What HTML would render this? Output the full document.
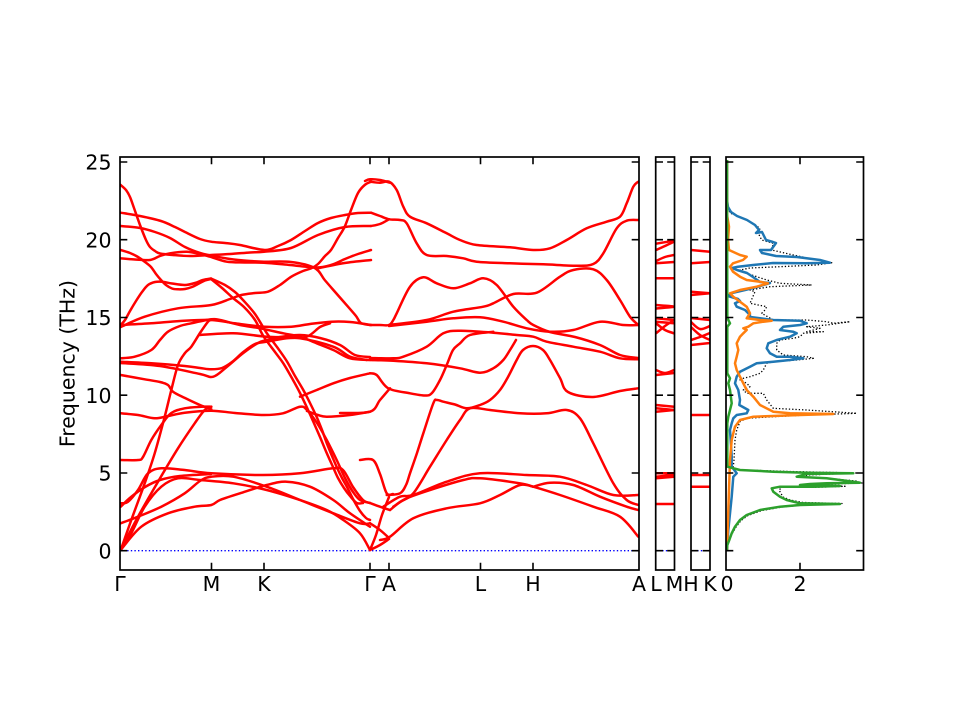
<!DOCTYPE html>
<html><head><meta charset="utf-8"><style>
html,body{margin:0;padding:0;background:#fff;}
svg{display:block;}
text{font-family:"DejaVu Sans","Liberation Sans",sans-serif;font-size:20.5px;fill:#000;}
.r{fill:none;stroke:#ff0000;stroke-width:2.5;stroke-linejoin:round;stroke-linecap:round;}
.z{fill:none;stroke:#0000ff;stroke-width:1.3;stroke-dasharray:1.4 2.2;}
.b{fill:none;stroke:#1f77b4;stroke-width:2.5;stroke-linejoin:round;}
.o{fill:none;stroke:#ff7f0e;stroke-width:2.5;stroke-linejoin:round;}
.g{fill:none;stroke:#2ca02c;stroke-width:2.5;stroke-linejoin:round;}
.k{fill:none;stroke:#000;stroke-width:1.3;stroke-dasharray:1.3 2;stroke-linejoin:round;}
.sp{fill:none;stroke:#000;stroke-width:1.7;}
.t{stroke:#000;stroke-width:1.6;}
</style></head><body>
<svg id="fig" width="960" height="720" viewBox="0 0 960 720" xmlns="http://www.w3.org/2000/svg">
<defs>
<clipPath id="c1"><rect x="120" y="157" width="519" height="413"/></clipPath>
<clipPath id="c2"><rect x="655.7" y="157" width="18.8" height="413"/></clipPath>
<clipPath id="c3"><rect x="691" y="157" width="19" height="413"/></clipPath>
<clipPath id="c4"><rect x="726" y="157" width="137.5" height="413"/></clipPath>
</defs>
<rect width="960" height="720" fill="#fff"/>

<g clip-path="url(#c1)">
<line class="z" x1="120" y1="550.7" x2="639" y2="550.7"/>
<polyline class="r" points="120.7,185 126,190 130,197 134,208 140,225 146,240 150,247 155,251 160,253.5 173,255 190,256 211,255 230,254 250,252.5 264,251.7 291,248 318,235 345,227 371,226"/>
<polyline class="r" points="120.7,212.7 140,216 161,221 175,227 185,232 200,239 211,241.7 225,243 240,245 264.7,250 278,246 291,240 305,231 318,223 331,218 345,215 358,213 371,212.7"/>
<polyline class="r" points="120.7,226 140,228 155,232 170,238 185,247 200,253 211,255.5 230,259 250,261 264,261.7 291,262 314.7,268 324.7,280 336,293 348,306.7 356,316 361,323 370,325"/>
<polyline class="r" points="120.7,250 130,253 138,257 145,262 151,267 156,274 161,280 166,285 172,288.5 178,289.3 185,289 192,287 198,284 205,280.5 211,279"/>
<polyline class="r" points="120,258.3 135,259.5 150,260 160,256 170,253.3 186.7,251.7 200,254 210,256.7 226.7,261.7 245,262.5 264,262.7 290,265 316,267.5 331,265 345,259 358,254 371,250"/>
<polyline class="r" points="318,268.3 344.7,263 371,260"/>
<polyline class="r" points="120.7,325 125,320 130,311 136,301 142,292 148,285 155,282 162,281.7 172,283.5 185,285 195,283 203,280 211,278.5"/>
<polyline class="r" points="211,278.5 225,285 235,292 243,300 255,314 266.7,333 277,347 286.7,361 295,376 303.3,390 310,403 316.7,417 322,430 326.7,443 332,456 336.7,467 342,478 347,487 353,499 360,511 366,518 370,520"/>
<polyline class="r" points="211,279 222,288 233,298 244,307 255,320 263.3,336 275,352 283.3,363.3 293,380 300,393 306.7,407 313,421 320,437 326.7,453 333,467 338,478 344,488 350,496 356.7,503 363,503"/>
<polyline class="r" points="120.7,325 151.3,323.3 180,321 211.3,320 234.7,323.3 264.7,326.7 291.3,326.7 310,324 331.3,321.7 350,322 371.3,325"/>
<polyline class="r" points="120.7,327 144.7,316.7 178,308.3 211.3,305 230,299 241.3,295 255,293 268,291.7 280,285 291.3,276.7 303,271 311.3,268.3 318,264 325,256 331,250 338,238 344.7,226.7 351,210 358,193 364.7,185 371,181.7"/>
<polyline class="r" points="120.7,358.3 134.7,356.7 151.3,350 160,340 168,331.7 180,326 191.3,323.3 211.3,319.3 220,320 240,325 260,328.3 283.3,333.3 300,336.7 316.7,343.3 333.3,350 350,358.3 370,360"/>
<polyline class="r" points="120.7,361.7 151.3,363.3 184.7,366 200,368 211.3,369.3 222,368 232,362 243.3,352 255,344 266.7,341.7 286.7,338.3 306.7,336.7 320,327 330,323.3"/>
<polyline class="r" points="120.7,363 160,366 200,374 213.3,376.7 226.7,367 243.3,353 258,343 266.7,340 280,337 300,335 320,338 340,345 355,355 370,357"/>
<polyline class="r" points="120.7,375 144.7,379.3 160,382 168,385 173,391.7 185,398 200,405 211.3,409.3"/>
<polyline class="r" points="200,335 233.3,333.3 266.7,336.7 300,338.3 333.3,346.7 350,356.7 366.7,360"/>
<polyline class="r" points="120.7,413.3 138,415 154.7,418.3 168,416 184.7,412.7 211.3,410.7 235,413 263,415 283,413.3 300,406.7 307,410 317,423 326.7,440 336.7,460 345,478 353,492 360,500 370,503"/>
<polyline class="r" points="120.7,460 138,460 143,457 151.3,440 161.3,425 171.3,413 184.7,408.3 201.3,406.7 211.3,406.7"/>
<polyline class="r" points="120.7,550 131.3,520 144.7,483.3 154.7,453.3 164.7,416.7 171.3,390 178,365 185,353 191.3,346.7 200,333 208,321.7 211,320"/>
<polyline class="r" points="120.7,550 138,516.7 158,481.7 178,448.3 194.7,423.3 204.7,410 211.3,406.7"/>
<polyline class="r" points="120.7,503.3 128,501.7 138,490 148,473.3 161.3,468.3 184.7,470 211.3,473.3 263,475 300,473.3 333,468.3 343,470 353,487 363,500 370,503"/>
<polyline class="r" points="120.7,550 131.3,533.3 144.7,506.7 161.3,486.7 178,478.3 200,480 233.3,483.3 266.7,490 300,500 326.7,510 343.3,520 360,533.3 370,550"/>
<polyline class="r" points="120.7,523.3 138,516.7 161.3,506.7 184.7,493.3 200,481 211.3,476.7 233.3,476.7 266.7,486.7 300,500 333.3,513.3 360,523.3 370,523.3"/>
<polyline class="r" points="120.7,550 141.3,526.7 168,513.3 194.7,506.7 211.3,505 220,500 240,493.3 266.7,485 286.7,481.7 310,486.7 333.3,500 350,513.3 370,526.7"/>
<polyline class="r" points="120.7,506.7 131,497 145,487 160,480 180,476 211,474"/>
<polyline class="r" points="300,396.7 316.7,390 333.3,383.3 350,378 370,373.3"/>
<polyline class="r" points="307,411 318,415 326.7,416.7 350,415 370,411.7"/>

<polyline class="r" points="365,181 370,179.3 380,180 390,182.7"/>
<polyline class="r" points="370,181.7 380,182.7 389,181.7 396.7,190 403.3,206.7 410,216.7 426.7,223.3 446.7,233.3 460,240 476.7,245 510,247.3 533.3,250 550,248.3 566.7,240 586.7,228.3 606.7,221.7 620,216.7 626.7,203.3 633.3,186.7 638.3,181.7"/>
<polyline class="r" points="371,212.7 380,216 389,219.3 400,220 406.7,223.3 416.7,243.3 426.7,255 446.7,256 463.3,258.3 476.7,261.7 510,263.3 543.3,264.3 576.7,265.7 593.3,264 603.3,253.3 616.7,228.3 626.7,220.7 638.3,220"/>
<polyline class="r" points="371,226 380,224 389,219.3"/>
<polyline class="r" points="370,325 380,325 389,325 393.3,320 396.7,313.3 410,286.7 423.3,277.3 436.7,283.3 453.3,288.3 470,283.3 483.3,278.3 496.7,285 513.3,306.7 526.7,320 533.3,325 550,332 575,337 600,345 620,355 638,358"/>
<polyline class="r" points="389,325 426.7,320 453.3,311.7 483.3,306.7 493.3,303.3 513.3,294 536.7,292.7 560,276.7 573.3,270 593.3,269.3 606.7,280 620,300 630,316.7 638.3,325"/>
<polyline class="r" points="389,326 426.7,321.7 453.3,318.3 480,317.3 503.3,321.7 526.7,328.3 550,331.7 573.3,330 600,321.7 623.3,325 638.3,325"/>
<polyline class="r" points="370,358 393.3,358.3 403.3,356.7 426.7,346.7 443.3,333.3 460,330.7 493.3,332.7 516.7,335 533.3,336.7 546.7,341.7 573.3,346.7 600,351.7 620,358.3 638.3,359.3"/>
<polyline class="r" points="370,360 393.3,360.7 426.7,363.3 460,368.3 480,372.7 493.3,368.3 503.3,360 510,350 516,340"/>
<polyline class="r" points="370,373.3 376.7,375 388.3,388.3 410,393.3 425,395.5 432,393 440,380 446.7,365 453,350 460,343.3 470,335 493.3,331.7"/>
<polyline class="r" points="340,413 370,411.7 380,400 390,388.3"/>
<polyline class="r" points="386.7,495 400,493.3 406,485 410,473.3 417,453 423.3,433.3 433.3,403.3 437,400 443.3,401.7 455,404.5 466.7,408.3 480,405 490,400 500,390 508,377 516.7,360 523,350 533,346 543,350 550,360 560,378 568,392 593,397 620,391 638.3,388.3"/>
<polyline class="r" points="390,510 400,502 413.3,493.3 430,466.7 446.7,440 460,420 470,408.3 490,410 520,413.3 546.7,413.3 566.7,410 580,418.3 593.3,443.3 613.3,483.3 626.7,500 638.3,505"/>
<polyline class="r" points="383.3,506.7 400,496.7 413.3,495 446.7,481.7 480,473.3 526.7,475 560,476.7 586.7,485 613.3,495 638.3,495"/>
<polyline class="r" points="393.3,506.7 406.7,498.3 430,490 463.3,480 480,478.3 520,483.3 533.3,486.7 560,495 593.3,506.7 620,516.7 638.3,536.7"/>
<polyline class="r" points="533.3,486.7 550,482.7 573.3,485 600,496.7 626.7,506.7 638.3,510"/>
<polyline class="r" points="380,540 390,536.7 413.3,518.3 446.7,508.3 480,503.3 500,495 520,485 533.3,486.7"/>
<polyline class="r" points="370,550 380,545 389,539"/>
<polyline class="r" points="370,550 376,535 382,515 389,497"/>
<polyline class="r" points="370,523.3 380,530 389,538"/>
<polyline class="r" points="360,460 373,460 380,474 386.7,493.3 393,494"/>
<polyline class="r" points="370,503 380,506.7 390,510"/>
</g>

<g clip-path="url(#c2)">
<line class="z" x1="655" y1="550.7" x2="675" y2="550.7"/>
<polyline class="r" points="656,243.7 674,240.7"/>
<polyline class="r" points="656,250 665,246 674,241.7"/>
<polyline class="r" points="656,261 665,257 674,255"/>
<polyline class="r" points="656,263.3 674,262"/>
<polyline class="r" points="656,278.3 674,278.3"/>
<polyline class="r" points="656,305 674,306.7 656,308.5"/>
<polyline class="r" points="656,318.3 674,320"/>
<polyline class="r" points="656,321.7 674,323.3"/>
<polyline class="r" points="656,323.3 665,330 674,333.3"/>
<polyline class="r" points="656,333.3 665,326 674,320"/>
<polyline class="r" points="656,370 665,373 674,370"/>
<polyline class="r" points="656,375 674,373"/>
<polyline class="r" points="656,405 674,406.7"/>
<polyline class="r" points="656,408.3 674,410"/>
<polyline class="r" points="656,411.7 674,410"/>
<polyline class="r" points="656,473.3 674,473.3"/>
<polyline class="r" points="656,476.7 674,475"/>
<polyline class="r" points="656,478.3 674,476.7"/>
<polyline class="r" points="656,504 674,504"/>
</g>

<g clip-path="url(#c3)">
<line class="z" x1="690" y1="550.7" x2="711" y2="550.7"/>
<polyline class="r" points="691,250 710,251.7"/>
<polyline class="r" points="691,263.3 710,262"/>
<polyline class="r" points="691,291.7 710,293.3"/>
<polyline class="r" points="691,295 710,293.3"/>
<polyline class="r" points="691,318 710,320"/>
<polyline class="r" points="691,322 700,329 710,326"/>
<polyline class="r" points="691,327 700,335 710,340"/>
<polyline class="r" points="691,340 700,337 710,333"/>
<polyline class="r" points="691,345 710,343"/>
<polyline class="r" points="691,415 710,415"/>
<polyline class="r" points="691,475 710,475"/>
<polyline class="r" points="691,486.7 710,486.7"/>
</g>

<g clip-path="url(#c4)">
<polyline class="k" points="727,165 727.5,205 730,213 740,217 750,221.7 760,228.3 758.3,233.3 761.7,240 773.3,243.3 771.7,250 793.3,255 816.7,260 831.7,262.7 816.7,265 780,266.7 750,268 740,270 746.7,273.3 766.7,280 780,283.3 811.7,285 770,286.7 750,290 755,291.7 750,303.3 766.7,306.7 765,310 761.7,313.3 773.3,320 806.7,320 826.7,321.7 833.3,323.3 850,321.7 826.7,325 806.7,326.7 820,328.3 806.7,331.7 823.3,331.7 803.3,333.3 800,336.7 793.3,338.3 780,340 776.7,343.3 776.7,350 783.3,355 806.7,356.7 813.3,358.3 796.7,360 773.3,361.7 766.7,363.3 763.3,370 760,373.3 750,376.7 743.3,378.3 740,380 746.7,383.3 750,386.7 743.3,390 746.7,393.3 763.3,393.3 766.7,400 773.3,408.3 806.7,410 856.7,413.3 806.7,415 773.3,416.7 746.7,418.3 740,421.7 736.7,430 735,440 734,460 733,469 745,470 790,471.5 856,473 808,475 800,477 830,478.5 856,481 862,483 830,484 812,485 845,486.3 815,487.3 782,487.3 779,490 783,497 790,500 803,502.5 842,503.5 803,505 782,507 762,510.5 748,515.5 741,520.5 736,527 732,534 729.5,540 727.5,545 727,550"/>
<polyline class="b" points="727,160 727,200 728,207 731,212 737,216 747,220 755,225 759,230 756,233 762,232 766,240 773,242 776,243 771,250 760,250 762,253 776,256 797,257 820,260 830,262.7 806,263.3 773,263 753,265 738,266.7 732,268 737,270 747,273 753,277 760,282 770,283 757,287 745,290 732,293 728,296 738,299 740,301 735,303.3 736.7,306.7 745,310 750,315 748.3,316.7 773.3,320 800,320.7 806.7,323.3 800,325 783.3,326.7 780,330 793.3,331.7 796.7,333.3 790,336.7 783.3,338.3 776.7,340 768.3,343.3 766.7,348.3 770,353.3 776.7,356.7 790,356.7 803.3,358.3 790,360 773.3,361.7 756.7,363.3 750,366.7 740,371.7 736.7,376.7 735,383.3 738.3,390 740,400 739.3,405 748.3,410 746.7,413.3 736.7,415 733.3,418.3 731.7,423.3 730,430 731,445 731.7,456.7 731.7,466.7 736.7,473.3 733.3,476.7 731.7,496.7 728.3,530 727.3,545 727,550"/>
<polyline class="o" points="727,160 727,215 729,226.7 728,240 729,250 740,255 746.7,256.7 743,260 733,263.3 730,266.7 733,271.7 740,276.7 746.7,280 760,281.7 768,283.3 756.7,286.7 740,290 730,293.3 733.3,296.7 746.7,306.7 750,313.3 746.7,318.3 760,320 771.7,320.7 763.3,321.7 753.3,323.3 748.3,326.7 743.3,328.3 746.7,330 743.3,333.3 740,336.7 736.7,343.3 738.3,350 736.7,356.7 735,363.3 736.7,370 740,376.7 743.3,383.3 746.7,390 753.3,396.7 760,405 773.3,411.7 790,413.3 833.3,414 800,415 773.3,416 753.3,416.7 740,420 735,426.7 733.3,433.3 731.7,440 730,460 729,490 728,520 727,550"/>
<polyline class="g" points="727,160 727.3,316.7 728.3,320 730,323.3 727.3,326.7 727.3,373.3 730,378.3 728.3,383.3 730,390 731.7,403.3 730,410 728.3,416.7 727.3,423.3 727.3,466.7 740,470 773.3,471.7 806.7,472.7 853.3,473.3 806.7,474 796.7,476.7 826.7,478.3 853.3,481.7 860,482.7 826.7,483.3 810,484 800,485 840,486 813.3,486.7 780,486.7 771.7,488.3 773.3,491.7 780,496.7 786.7,500 800,503.3 840,504 800,505 780,506.7 760,510 746.7,515 740,520 735,526.7 731.7,533.3 729.3,540 727.3,545 727,550"/>
</g>

<!-- spines -->
<rect class="sp" x="120" y="157" width="519" height="413"/>
<rect class="sp" x="655.7" y="157" width="18.8" height="413"/>
<rect class="sp" x="691" y="157" width="19" height="413"/>
<rect class="sp" x="726" y="157" width="137.5" height="413"/>

<!-- ticks -->
<g class="t">
<path d="M120,550.7h7.3M120,473h7.3M120,395.2h7.3M120,317.5h7.3M120,239.7h7.3M120,162h7.3"/>
<path d="M639,550.7h-7.3M639,473h-7.3M639,395.2h-7.3M639,317.5h-7.3M639,239.7h-7.3M639,162h-7.3"/>
<path d="M211.5,570v-7.3M264,570v-7.3M370,570v-7.3M389,570v-7.3M480.5,570v-7.3M533,570v-7.3"/>
<path d="M211.5,157v7.3M264,157v7.3M370,157v7.3M389,157v7.3M480.5,157v7.3M533,157v7.3"/>
<path d="M655.7,550.7h7.3M655.7,473h7.3M655.7,395.2h7.3M655.7,317.5h7.3M655.7,239.7h7.3M655.7,162h7.3"/>
<path d="M674.5,550.7h-7.3M674.5,473h-7.3M674.5,395.2h-7.3M674.5,317.5h-7.3M674.5,239.7h-7.3M674.5,162h-7.3"/>
<path d="M691,550.7h7.3M691,473h7.3M691,395.2h7.3M691,317.5h7.3M691,239.7h7.3M691,162h7.3"/>
<path d="M710,550.7h-7.3M710,473h-7.3M710,395.2h-7.3M710,317.5h-7.3M710,239.7h-7.3M710,162h-7.3"/>
<path d="M726,550.7h7.3M726,473h7.3M726,395.2h7.3M726,317.5h7.3M726,239.7h7.3M726,162h7.3"/>
<path d="M863.5,550.7h-7.3M863.5,473h-7.3M863.5,395.2h-7.3M863.5,317.5h-7.3M863.5,239.7h-7.3M863.5,162h-7.3"/>
<path d="M800,570v-7.3M800,157v7.3"/>
</g>

<g text-anchor="end">
<text x="111.5" y="558.3">0</text>
<text x="111.5" y="480.6">5</text>
<text x="111.5" y="402.8">10</text>
<text x="111.5" y="325.1">15</text>
<text x="111.5" y="247.3">20</text>
<text x="111.5" y="169.6">25</text>
</g>
<g text-anchor="middle">
<text x="120" y="591">Γ</text>
<text x="211.5" y="591">M</text>
<text x="264" y="591">K</text>
<text x="370" y="591">Γ</text>
<text x="389" y="591">A</text>
<text x="480.5" y="591">L</text>
<text x="533" y="591">H</text>
<text x="639" y="591">A</text>
<text x="656" y="591">L</text>
<text x="674.5" y="591">M</text>
<text x="691" y="591">H</text>
<text x="710" y="591">K</text>
<text x="727" y="591">0</text>
<text x="800" y="591">2</text>
</g>
<text transform="translate(74.5,363.5) rotate(-90)" text-anchor="middle">Frequency (THz)</text>
</svg>
<script>
(function(){
  var ns="http://www.w3.org/2000/svg";
  var pls=document.querySelectorAll("polyline.r");
  for(var i=0;i<pls.length;i++){
    var pl=pls[i];
    var raw=pl.getAttribute("points").trim().split(/\s+/);
    var p=[];
    for(var j=0;j<raw.length;j++){var xy=raw[j].split(",");p.push([+xy[0],+xy[1]]);}
    if(p.length<3)continue;
    var d="M"+p[0][0]+","+p[0][1];
    for(var k=0;k<p.length-1;k++){
      var p0=p[k>0?k-1:k],p1=p[k],p2=p[k+1],p3=p[k+2<p.length?k+2:k+1];
      var c1x=p1[0]+(p2[0]-p0[0])/6,c1y=p1[1]+(p2[1]-p0[1])/6;
      var c2x=p2[0]-(p3[0]-p1[0])/6,c2y=p2[1]-(p3[1]-p1[1])/6;
      d+=" C"+c1x.toFixed(2)+","+c1y.toFixed(2)+" "+c2x.toFixed(2)+","+c2y.toFixed(2)+" "+p2[0]+","+p2[1];
    }
    var path=document.createElementNS(ns,"path");
    path.setAttribute("d",d);
    path.setAttribute("class","r");
    pl.parentNode.replaceChild(path,pl);
  }
})();
</script>
</body></html>
